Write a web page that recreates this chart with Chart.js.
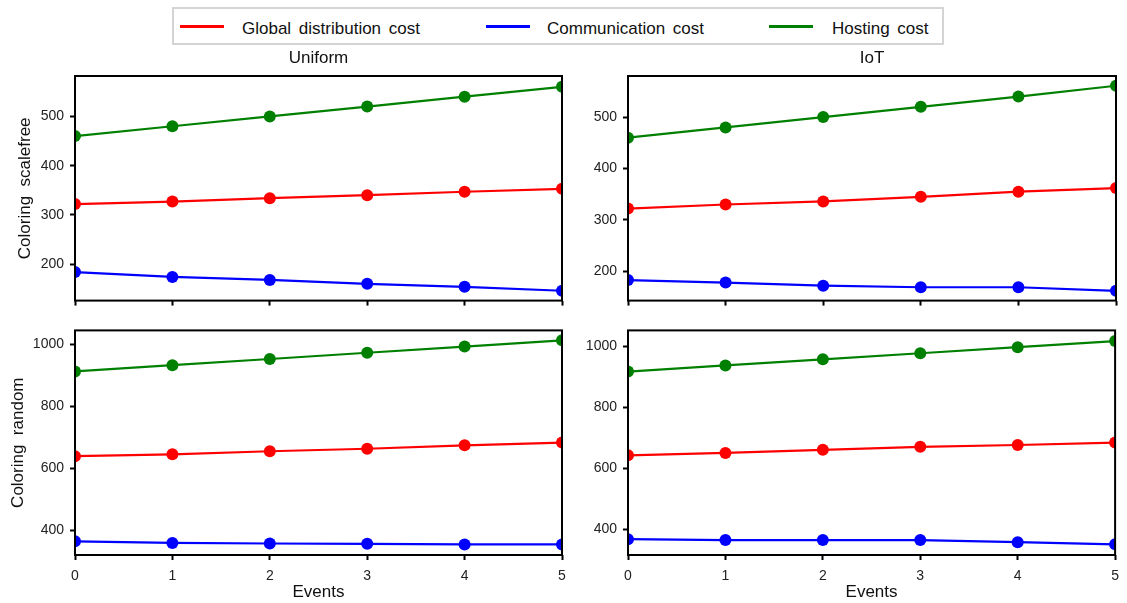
<!DOCTYPE html>
<html>
<head>
<meta charset="utf-8">
<script src="https://cdn.jsdelivr.net/npm/chart.js@4/dist/chart.umd.min.js"></script>
<style>
  html, body { margin: 0; padding: 0; background: #fff; }
  body { width: 1127px; height: 603px; position: relative; overflow: hidden; font-family: "Liberation Sans", Arial, sans-serif; }
  canvas { position: absolute; }
  #legend { position: absolute; left: 172px; top: 7px; width: 768px; height: 34px; border: 2px solid #d4d4d4; box-sizing: content-box; }
  .sw { position: absolute; top: 25px; height: 3px; width: 44px; }
  .lt { position: absolute; top: 19px; font-size: 17px; line-height: 20px; color: #111; white-space: pre; word-spacing: 3px; }
</style>
</head>
<body>
<div id="legend"></div>
<div class="sw" style="left:180px;background:#ff0000"></div>
<div class="lt" style="left:242px">Global distribution cost</div>
<div class="sw" style="left:486px;background:#0000ff"></div>
<div class="lt" style="left:547px">Communication cost</div>
<div class="sw" style="left:769px;background:#008000"></div>
<div class="lt" style="left:832px">Hosting cost</div>

<canvas id="tl" width="575" height="270" style="left:0px;top:45px"></canvas>
<canvas id="tr" width="552" height="270" style="left:575px;top:45px"></canvas>
<canvas id="bl" width="575" height="287" style="left:0px;top:316px"></canvas>
<canvas id="br" width="552" height="287" style="left:575px;top:316px"></canvas>

<script>
// ---- data ----
const events = [0, 1, 2, 3, 4, 5];
const yTicksTop = [200, 300, 400, 500];
const yTicksBottom = [400, 600, 800, 1000];
const seriesNames = ['Global distribution cost', 'Communication cost', 'Hosting cost'];
const columnTitles = ['Uniform', 'IoT'];
const rowTitles = ['Coloring  scalefree', 'Coloring  random'];
const xTitle = 'Events';

const uniformScalefreeGlobal = [322, 327, 334, 340, 347, 353];
const uniformScalefreeComm   = [184, 174, 168, 160, 154, 146];
const uniformScalefreeHost   = [460, 480, 500, 520, 540, 560];

const iotScalefreeGlobal = [322, 330, 336, 345, 355, 362];
const iotScalefreeComm   = [183, 178, 172, 169, 169, 162];
const iotScalefreeHost   = [460, 480, 500, 520, 540, 561];

const uniformRandomGlobal = [639, 645, 655, 663, 674, 683];
const uniformRandomComm   = [365, 360, 358, 357, 355, 355];
const uniformRandomHost   = [912, 932, 952, 972, 992, 1012];

const iotRandomGlobal = [643, 651, 661, 671, 677, 685];
const iotRandomComm   = [368, 365, 365, 365, 358, 351];
const iotRandomHost   = [918, 938, 958, 978, 998, 1018];

const colors = ['#ff0000', '#0000ff', '#008000'];

Chart.defaults.font.family = '"Liberation Sans", Arial, sans-serif';
Chart.defaults.color = '#222';

const framePlugin = {
  id: 'frame',
  afterDatasetsDraw(chart) {
    const { ctx, chartArea: a } = chart;
    ctx.save();
    ctx.strokeStyle = '#000';
    ctx.lineWidth = 2;
    ctx.strokeRect(a.left, a.top, a.right - a.left, a.bottom - a.top);
    ctx.restore();
  }
};

function panel(id, series, o) {
  return new Chart(document.getElementById(id), {
    type: 'line',
    data: {
      labels: events,
      datasets: series.map((d, i) => ({
        label: seriesNames[i],
        data: d,
        borderColor: colors[i],
        backgroundColor: colors[i],
        pointBackgroundColor: colors[i],
        pointBorderColor: colors[i],
        borderWidth: 2.2,
        pointRadius: 6,
        pointBorderWidth: 0,
        tension: 0,
        clip: 0
      }))
    },
    options: {
      responsive: false,
      animation: false,
      events: [],
      layout: { padding: o.padding },
      plugins: {
        legend: { display: false },
        tooltip: { enabled: false },
        title: {
          display: !!o.title,
          text: o.title || '',
          fullSize: false,
          color: '#111',
          font: { size: 17, weight: 'normal' },
          padding: { top: 3.5, bottom: 7.1 }
        }
      },
      scales: {
        x: {
          type: 'category',
          offset: false,
          grid: { display: true, offset: false, drawOnChartArea: false, drawTicks: true, tickLength: 5, tickWidth: 2, tickColor: '#000' },
          border: { display: false },
          ticks: { display: o.showX, font: { size: 14 }, color: '#222', padding: 8, maxRotation: 0, autoSkip: false },
          title: { display: o.showX, text: xTitle, color: '#111', font: { size: 17 }, padding: { top: 0, bottom: 0 } },
          afterFit(s) { s.height = o.xHeight; }
        },
        y: {
          type: 'linear',
          min: o.yMin,
          max: o.yMax,
          afterBuildTicks(s) { s.ticks = o.yTicks.map(v => ({ value: v })); },
          grid: { drawOnChartArea: false, drawTicks: true, tickLength: 5, tickWidth: 2, tickColor: '#000' },
          border: { display: false },
          ticks: { font: { size: 14 }, color: '#222', padding: 6, callback: v => String(v) },
          title: { display: !!o.yTitle, text: o.yTitle || '', color: '#111', font: { size: 17 }, padding: { top: 0, bottom: 0 } },
          afterFit(s) { s.width = o.yWidth; }
        }
      }
    },
    plugins: [framePlugin]
  });
}

panel('tl', [uniformScalefreeGlobal, uniformScalefreeComm, uniformScalefreeHost], {
  title: columnTitles[0], yTitle: rowTitles[0], showX: false,
  yMin: 126, yMax: 582, yTicks: yTicksTop,
  padding: { left: 15, right: 13, top: 0, bottom: 0 }, yWidth: 60, xHeight: 10
});
panel('tr', [iotScalefreeGlobal, iotScalefreeComm, iotScalefreeHost], {
  title: columnTitles[1], yTitle: null, showX: false,
  yMin: 143, yMax: 580, yTicks: yTicksTop,
  padding: { left: 0, right: 11, top: 0, bottom: 0 }, yWidth: 53, xHeight: 10
});
panel('bl', [uniformRandomGlobal, uniformRandomComm, uniformRandomHost], {
  title: null, yTitle: rowTitles[1], showX: true,
  yMin: 321, yMax: 1044, yTicks: yTicksBottom,
  padding: { left: 8, right: 13, top: 10, bottom: 0 }, yWidth: 67, xHeight: 48
});
panel('br', [iotRandomGlobal, iotRandomComm, iotRandomHost], {
  title: null, yTitle: null, showX: true,
  yMin: 316, yMax: 1053, yTicks: yTicksBottom,
  padding: { left: 0, right: 11, top: 10, bottom: 0 }, yWidth: 53, xHeight: 48
});
</script>
</body>
</html>
